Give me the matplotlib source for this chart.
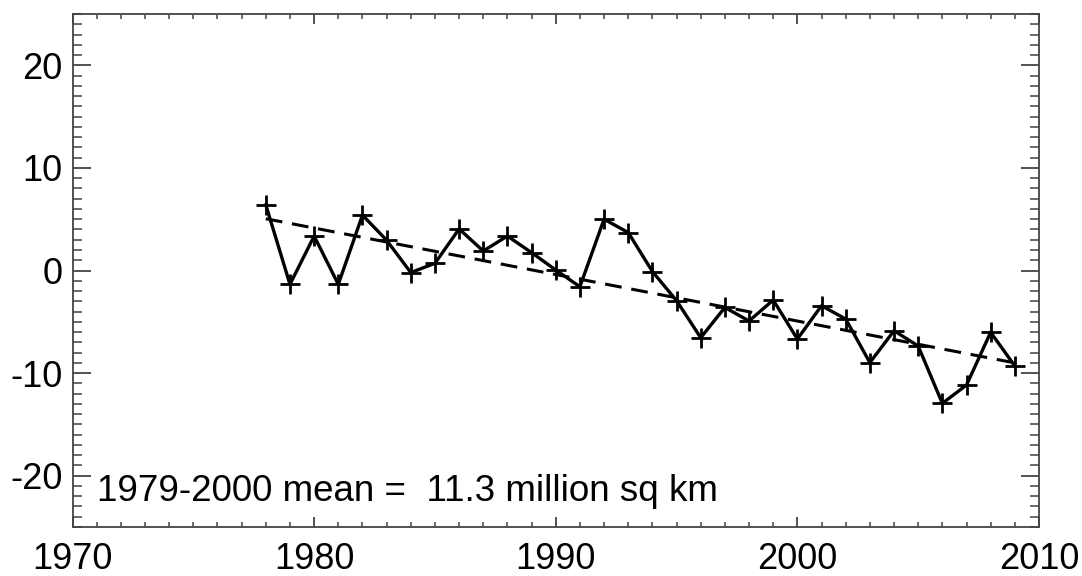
import numpy as np
import matplotlib
matplotlib.use("Agg")
from matplotlib import pyplot as plt
from matplotlib.ticker import MultipleLocator

# anomaly values (percent)
years = np.arange(1978, 2010)
anomaly = [6.4, -1.35, 3.36, -1.35, 5.4, 2.95, -0.2, 0.7, 4.05, 1.9,
           3.36, 1.74, 0.05, -1.58, 5.0, 3.7, -0.1, -2.94, -6.55, -3.6,
           -4.92, -2.88, -6.68, -3.43, -4.73, -8.98, -5.87, -7.36, -12.95, -11.16,
           -6.02, -9.31]
note = "1979-2000 mean =  11.3 million sq km"

plt.rcParams['font.family'] = ['Liberation Sans', 'DejaVu Sans']
plt.rcParams['axes.unicode_minus'] = False

fig = plt.figure(figsize=(10.82, 5.76), dpi=100)
ax = fig.add_axes([72.5/1082, 1 - 527/576, (1039 - 72.5)/1082, (527 - 14)/576])

# linear trend
slope, icept = np.polyfit(years, anomaly, 1)
ax.plot(years, slope*years + icept, color="black", lw=2.2, ls=(0, (5.5, 3.2)))
ax.plot(years, anomaly, color="black", lw=2.4, marker="+", ms=15, mew=2)

ax.set_xlim(1970, 2010)
ax.set_ylim(-25, 25)
ax.xaxis.set_major_locator(MultipleLocator(10))
ax.xaxis.set_minor_locator(MultipleLocator(1))
ax.yaxis.set_major_locator(MultipleLocator(10))
ax.yaxis.set_minor_locator(MultipleLocator(1))

ax.tick_params(axis="both", which="both", direction="in", top=True, right=True,
               color="#444444", labelsize=26)
ax.tick_params(axis="x", which="major", length=7.2, width=1.3, pad=11)
ax.tick_params(axis="x", which="minor", length=3.6, width=1.1)
ax.tick_params(axis="y", which="major", length=13, width=1.3, pad=7)
ax.tick_params(axis="y", which="minor", length=6.5, width=1.1)
for s in ax.spines.values():
    s.set_color("#444444")
    s.set_linewidth(1.3)

ax.text(1971.0, -22.5, note, fontsize=26.5, va="baseline", ha="left")

fig.savefig("out.png", dpi=100)
